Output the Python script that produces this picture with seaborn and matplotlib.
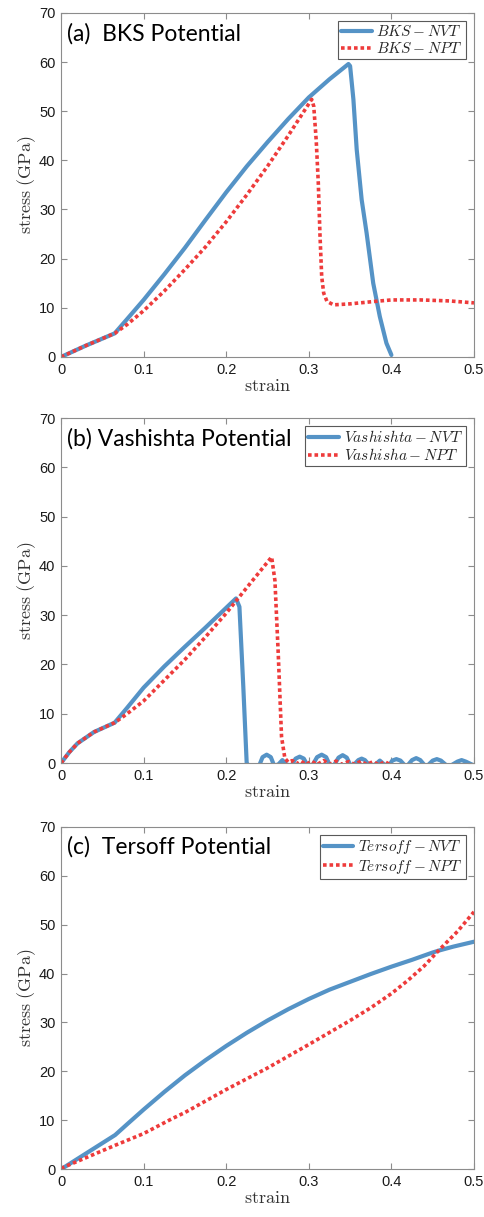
import matplotlib
matplotlib.use('Agg')
import matplotlib.pyplot as plt
import seaborn as sns

# ---------------- (a) BKS potential ----------------
bks_nvt_strain = [0, 0.03, 0.065, 0.08, 0.1, 0.125, 0.15, 0.175, 0.2, 0.225, 0.25, 0.275, 0.3, 0.325,
                  0.348, 0.35, 0.354, 0.358, 0.364, 0.37, 0.378, 0.386, 0.394, 0.4]
bks_nvt_stress = [0, 2.3, 4.8, 7.7, 11.6, 16.8, 22.2, 27.9, 33.5, 38.8, 43.7, 48.4, 52.8, 56.5,
                  59.6, 59.2, 52.4, 42.2, 32.0, 25.2, 15.0, 8.2, 2.8, 0.4]
bks_npt_strain = [0, 0.03, 0.065, 0.08, 0.1, 0.125, 0.15, 0.175, 0.2, 0.225, 0.25, 0.275, 0.3, 0.3035,
                  0.306, 0.309, 0.3115, 0.3135, 0.3156, 0.318, 0.322, 0.33, 0.35, 0.38, 0.4, 0.435, 0.47, 0.5]
bks_npt_stress = [0, 2.3, 4.8, 6.6, 9.4, 13.4, 17.8, 22.4, 27.5, 33.0, 38.8, 45.0, 51.5, 52.4,
                  51.0, 44.0, 35.4, 25.0, 16.4, 13.0, 11.3, 10.6, 10.8, 11.3, 11.6, 11.6, 11.4, 11.0]

# ---------------- (b) Vashishta potential ----------------
vas_nvt_strain = [0, 0.01, 0.02, 0.04, 0.065, 0.08, 0.1, 0.125, 0.15, 0.175, 0.2, 0.2119, 0.216, 0.2207,
                  0.2248, 0.232, 0.240, 0.244, 0.249, 0.254, 0.258, 0.263, 0.268, 0.273, 0.279, 0.284,
                  0.289, 0.294, 0.3, 0.305, 0.31, 0.3156, 0.321, 0.327, 0.331, 0.336, 0.341, 0.346,
                  0.352, 0.356, 0.36, 0.364, 0.368, 0.375, 0.382, 0.386, 0.39, 0.396, 0.401, 0.406,
                  0.411, 0.418, 0.425, 0.43, 0.435, 0.442, 0.45, 0.455, 0.46, 0.469, 0.48, 0.485, 0.49, 0.5]
vas_nvt_stress = [0, 2.2, 4.0, 6.3, 8.2, 11.2, 15.3, 19.6, 23.6, 27.5, 31.5, 33.4, 31.7, 15.5,
                  0, -1.5, -0.5, 1.2, 1.7, 1.2, -0.5, -0.3, 0.6, -0.3, -0.5, 0.9,
                  1.3, 0.9, -1.0, -0.3, 1.2, 1.7, 1.2, -1.0, -0.3, 1.1, 1.6, 1.1,
                  -1.0, -0.1, 0.6, 0.9, 0.6, -0.8, -0.1, 0.5, -0.1, -0.8, 0.5, 0.8,
                  0.5, -0.8, 0.6, 1.0, 0.6, -0.8, 0.5, 0.8, 0.5, -0.8, 0.3, 0.6, 0.3, -0.5]
vas_npt_strain = [0, 0.01, 0.02, 0.04, 0.065, 0.08, 0.1, 0.125, 0.15, 0.175, 0.2, 0.2288, 0.255, 0.259,
                  0.263, 0.267, 0.271, 0.275, 0.28, 0.285, 0.29, 0.297, 0.303, 0.31, 0.318, 0.325, 0.333,
                  0.34, 0.348, 0.356, 0.363, 0.37, 0.378, 0.385, 0.392, 0.4, 0.5]
vas_npt_stress = [0, 2.2, 4.0, 6.3, 8.2, 10.0, 12.6, 16.8, 21.0, 25.6, 30.4, 36.4, 41.8, 37.0,
                  22.2, 5.3, 1.0, 0.2, 0.5, -0.2, 0.4, -0.3, 0.4, -0.3, 0.5, -0.3, 0.4,
                  -0.3, 0.3, -0.3, 0.4, -0.3, 0.3, -0.4, 0.3, -0.5, -0.5]

# ---------------- (c) Tersoff potential ----------------
ter_nvt_strain = [0, 0.0655, 0.08, 0.1, 0.125, 0.15, 0.175, 0.2, 0.225, 0.25, 0.275, 0.3, 0.325,
                  0.35, 0.375, 0.4, 0.425, 0.45, 0.4577, 0.475, 0.5]
ter_nvt_stress = [0, 7.0, 9.2, 12.2, 15.8, 19.2, 22.3, 25.2, 27.9, 30.4, 32.7, 34.8, 36.7,
                  38.3, 39.9, 41.4, 42.8, 44.3, 44.7, 45.5, 46.5]
ter_npt_strain = [0, 0.0655, 0.1, 0.134, 0.15, 0.2, 0.25, 0.3, 0.35, 0.375, 0.4, 0.42, 0.44,
                  0.4577, 0.48, 0.5]
ter_npt_stress = [0.2, 4.9, 7.3, 10.3, 11.6, 16.3, 20.7, 25.5, 30.4, 33.0, 35.9, 38.6, 41.6,
                  44.8, 48.6, 52.6]

panel_titles = ['(a)  BKS Potential', '(b) Vashishta Potential', '(c)  Tersoff Potential']
nvt_labels = [r'$BKS-NVT$', r'$Vashishta-NVT$', r'$Tersoff-NVT$']
npt_labels = [r'$BKS-NPT$', r'$Vashisha-NPT$', r'$Tersoff-NPT$']
xtick_vals = [0, 0.1, 0.2, 0.3, 0.4, 0.5]
xtick_labels = ['0', '0.1', '0.2', '0.3', '0.4', '0.5']
ytick_vals = [0, 10, 20, 30, 40, 50, 60, 70]

sns.set_style('ticks')
plt.rcParams['font.family'] = ['Liberation Sans', 'DejaVu Sans']
plt.rcParams['mathtext.fontset'] = 'cm'

blue = '#5593c6'
red = '#ee3b3b'
axis_grey = '0.55'

fig = plt.figure(figsize=(4.85, 12.17), dpi=100)
boxes = [(0.1258, 0.7067, 0.8515, 0.2827),
         (0.1258, 0.3730, 0.8515, 0.2835),
         (0.1258, 0.0392, 0.8515, 0.2815)]

series = [
    (bks_nvt_strain, bks_nvt_stress, bks_npt_strain, bks_npt_stress),
    (vas_nvt_strain, vas_nvt_stress, vas_npt_strain, vas_npt_stress),
    (ter_nvt_strain, ter_nvt_stress, ter_npt_strain, ter_npt_stress),
]

for i, box in enumerate(boxes):
    ax = fig.add_axes(box)
    nx, ny, px, py = series[i]
    sns.lineplot(x=nx, y=ny, ax=ax, color=blue, lw=3.0, sort=False, estimator=None,
                 label=nvt_labels[i], solid_capstyle='round', solid_joinstyle='round')
    sns.lineplot(x=px, y=py, ax=ax, color=red, lw=2.6, sort=False, estimator=None,
                 label=npt_labels[i], linestyle=(0, (1, 0.8)))

    ax.set_xlim(0, 0.5)
    ax.set_ylim(0, 70)
    ax.set_xticks(xtick_vals)
    ax.set_xticklabels(xtick_labels)
    ax.set_yticks(ytick_vals)
    ax.tick_params(direction='in', length=4, width=0.8, color=axis_grey, top=True, right=True,
                   labelsize=10.5, labelcolor='0.1', pad=4)
    for sp in ax.spines.values():
        sp.set_color(axis_grey)
        sp.set_linewidth(0.8)

    ax.set_xlabel(r'$\mathrm{strain}$', fontsize=13, color='0.2', labelpad=1)
    ax.set_ylabel(r'$\mathrm{stress\ (GPa)}$', fontsize=13, color='0.2', labelpad=1)

    ax.text(0.015, 0.94, panel_titles[i], transform=ax.transAxes, fontsize=16.5,
            family=['Lato', 'DejaVu Sans'], va='center', ha='left', color='black')

    leg = ax.legend(loc='upper right', frameon=True, fancybox=False, framealpha=1,
                    edgecolor='0.35', fontsize=11, handlelength=2.0, handletextpad=0.3,
                    borderpad=0.2, labelspacing=0.1, borderaxespad=0.55)
    leg.get_frame().set_linewidth(0.8)

plt.savefig('out.png', dpi=100)
plt.close()
